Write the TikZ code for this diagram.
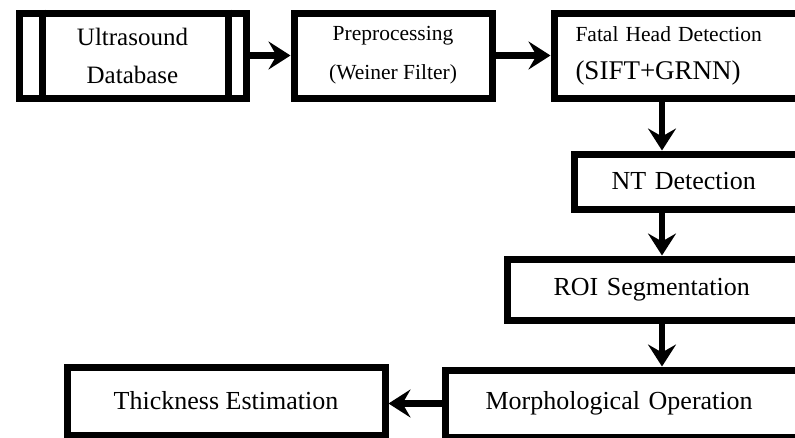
\documentclass[tikz,border=0pt]{standalone}
\usepackage{fontspec}
\setmainfont{Liberation Serif}
\usepackage{tikz}
\usetikzlibrary{arrows.meta}

\begin{document}
\begin{tikzpicture}[x=1pt,y=1pt,
	box/.style={draw,line width=7pt,anchor=north west,inner ysep=0pt,
		font=\fontsize{26}{30}\selectfont},
	leftbox/.style={box,align=left,text width=320pt},
	arr/.style={line width=6.5pt,-{Stealth[length=22pt,width=28pt,inset=8pt]}}]
	\useasboundingbox (0,0) rectangle (795,-437);
	\clip (0,0) rectangle (795,-437);
	% top row
	\node[box,align=center,minimum width=227pt,minimum height=85pt,
		font=\fontsize{25}{38}\selectfont] (ultra) at (15.5,-9.5) {Ultrasound\\Database};
	\draw[line width=7pt] ([xshift=27pt]ultra.north west) -- ([xshift=27pt]ultra.south west);
	\draw[line width=7pt] ([xshift=-21pt]ultra.north east) -- ([xshift=-21pt]ultra.south east);
	\node[box,align=center,minimum width=198pt,minimum height=85pt,
		font=\fontsize{21.5}{39}\selectfont] (prep) at (290.5,-9.5) {Preprocessing\\(Weiner Filter)};
	\node[leftbox,inner xsep=21.5pt,minimum height=85pt,
		font=\fontsize{21.5}{38}\selectfont] (fhd) at (550.5,-9.5)
		{Fatal Head Detection\\{\fontsize{27}{38}\selectfont (SIFT+GRNN)}};
	% right column
	\node[leftbox,inner xsep=37.5pt,minimum height=55pt] (nt) at (570.5,-150.5) {NT Detection};
	\node[leftbox,inner xsep=46.5pt,minimum height=61pt] (roi) at (503.5,-255.5) {ROI Segmentation};
	\node[leftbox,inner xsep=40.5pt,minimum height=67pt] (morph) at (441.5,-366.5) {Morphological Operation};
	\node[box,align=center,minimum width=318pt,minimum height=68pt] (thick) at (63.5,-363.5) {Thickness Estimation};
	% connectors
	\coordinate (down) at (662,0);
	\draw[arr] (ultra.east) -- (prep.west);
	\draw[arr] (prep.east) -- (fhd.west);
	\draw[arr] (fhd.south -| down) -- (nt.north -| down);
	\draw[arr] (nt.south -| down) -- (roi.north -| down);
	\draw[arr] (roi.south -| down) -- (morph.north -| down);
	\draw[arr] (morph.west) -- (morph.west -| thick.east);
\end{tikzpicture}
\end{document}
